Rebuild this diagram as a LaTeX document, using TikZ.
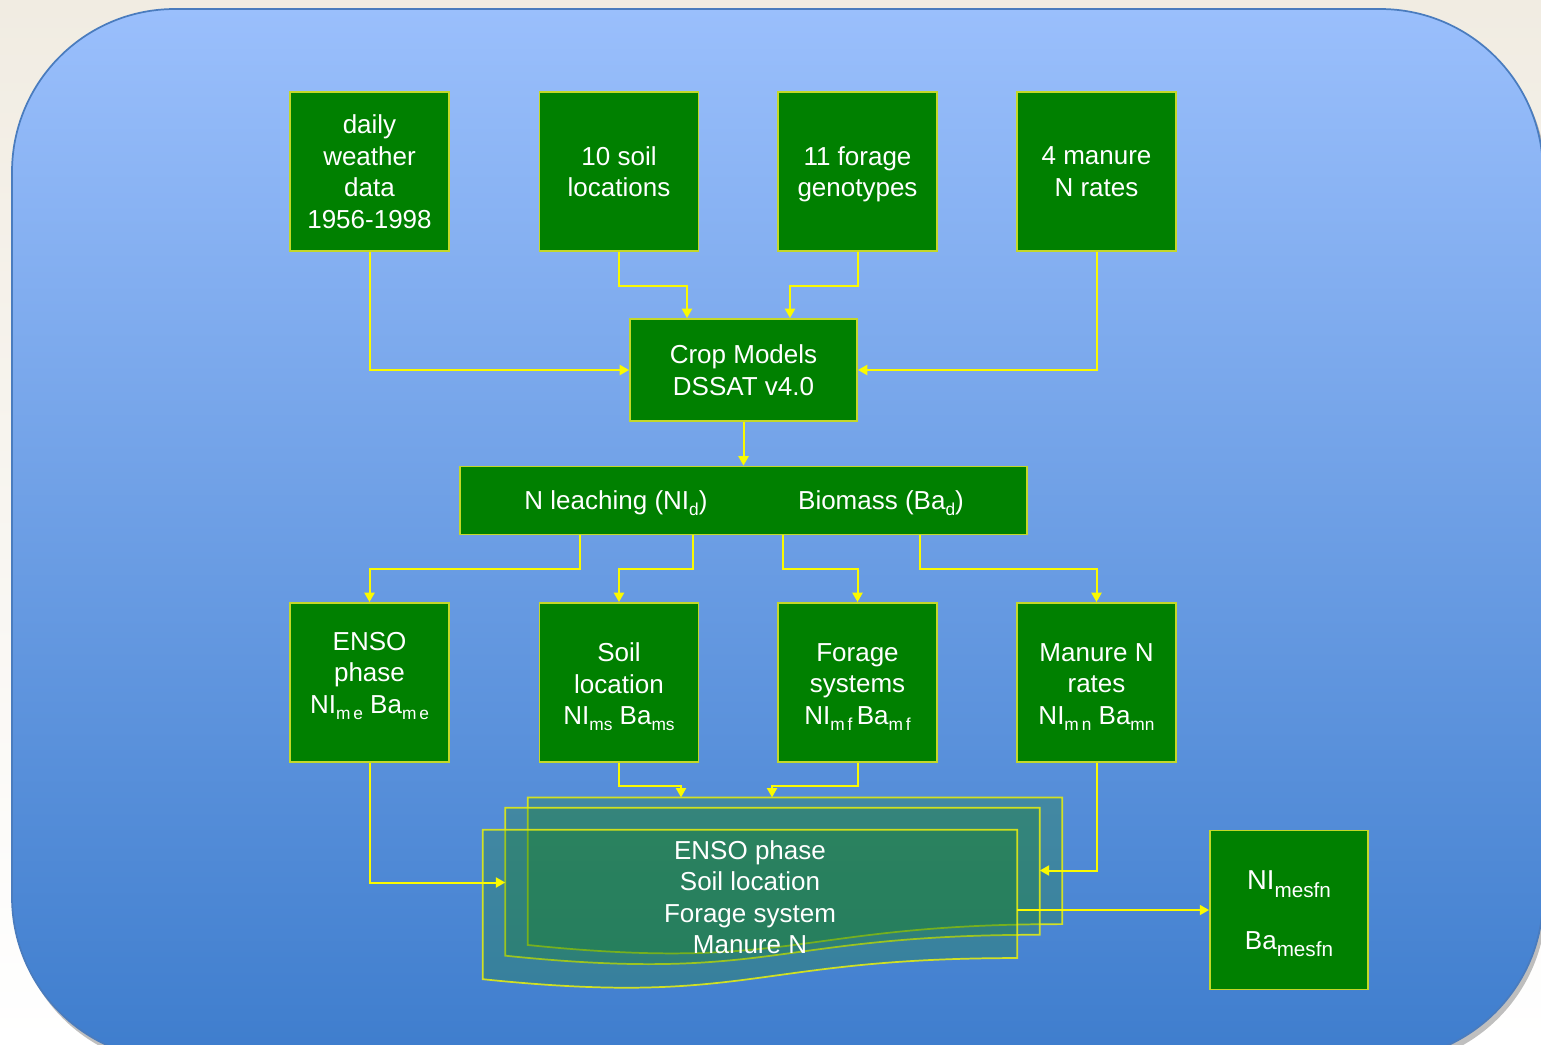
\documentclass[tikz,border=0pt]{standalone}
\usepackage{fontspec}
\setmainfont{Liberation Sans}
\usetikzlibrary{arrows.meta,calc}

\definecolor{paperTop}{RGB}{241,236,226}
\definecolor{panelTop}{RGB}{154,191,252}
\definecolor{panelBot}{RGB}{62,125,205}
\definecolor{panelEdge}{RGB}{74,124,190}
\definecolor{boxGreen}{RGB}{0,128,0}
\definecolor{boxEdge}{RGB}{196,216,40}
\definecolor{wire}{RGB}{250,250,0}
\definecolor{docFill}{RGB}{20,125,25}
\definecolor{docEdge}{RGB}{225,235,20}

% lowered small text for indices
\newcommand{\idx}[1]{\raisebox{-4.5pt}{\fontsize{13pt}{13pt}\selectfont #1}}
\newcommand{\bigidx}[1]{\raisebox{-5.5pt}{\fontsize{15.5pt}{15.5pt}\selectfont #1}}

\tikzset{
  gbox/.style={draw=boxEdge, line width=1.4pt, fill=boxGreen,
    minimum width=119.25pt, minimum height=119.25pt, inner sep=0pt,
    text=white, align=center, text depth=0pt},
  txt/.style={text=white, align=center, inner sep=0pt,
    font=\fontsize{19.5pt}{23.6pt}\selectfont},
  wirestyle/.style={draw=wire, line width=1.5pt,
    -{Triangle[length=7pt,width=7.5pt]}},
  docbox/.style={minimum width=400.5pt, inner sep=0pt},
  docpath/.style={draw=docEdge, draw opacity=0.9, line width=1.3pt,
    fill=docFill, fill opacity=0.28},
}

\begin{document}
\begin{tikzpicture}[x=0.75pt, y=-0.75pt]
  % canvas and panel
  \useasboundingbox (0,0) rectangle (1541,1045);
  \clip (0,0) rectangle (1541,1045);
  \fill[top color=paperTop, bottom color=white] (0,0) rectangle (1541,1045);
  \fill[black, opacity=0.25, rounded corners=122.25pt] (15,14) rectangle (1546,1066);
  \fill[top color=panelTop, bottom color=panelBot, rounded corners=122.25pt]
    (12,9) rectangle (1543,1060);
  \draw[panelEdge, line width=1.3pt, rounded corners=122.25pt]
    (12,9) rectangle (1543,1060);

  % input boxes
  \node[gbox, txt] (weather) at (369.5,171.5) {daily\\weather\\data\\1956-1998};
  \node[gbox, txt] (soil)    at (619,171.5)   {10 soil\\locations};
  \node[gbox, txt] (forage)  at (857.5,171.5) {11 forage\\genotypes};
  \node[gbox, txt] (manure)  at (1096.5,171.5){4 manure\\N rates};

  % model
  \node[gbox, txt, minimum width=170.25pt, minimum height=76.5pt]
    (crop) at (743.5,370) {Crop Models\\DSSAT v4.0};

  % model outputs
  \node[gbox, minimum width=425.25pt, minimum height=51pt] (daily) at (743.5,500.5) {};
  \node[txt] (nltxt) at (616,503) {N leaching (NI\idx{d})};
  \node[txt] (batxt) at (881,503) {Biomass (Ba\idx{d})};

  % aggregated boxes
  \node[gbox] (enso)  at (369.5,682.5) {};
  \node[gbox] (soilm) at (619,682.5)   {};
  \node[gbox] (form)  at (857.5,682.5) {};
  \node[gbox] (manm)  at (1096.5,682.5){};
  \node[txt] (ensotxt)  at (369.5,676) {ENSO\\phase\\NI\idx{m\,e} Ba\idx{m\,e}};
  \node[txt] (soiltxt)  at (619,687)   {Soil\\location\\NI\idx{ms} Ba\idx{ms}};
  \node[txt] (formtxt)  at (857.5,687) {Forage\\systems\\NI\idx{m\,f}\,Ba\idx{m\,f}};
  \node[txt] (manmtxt)  at (1096.5,687){Manure N\\rates\\NI\idx{m\,n} Ba\idx{mn}};

  % stacked documents (back, middle, front)
  \node[docbox, minimum height=95pt]  (docback)  at (795,861) {};
  \node[docbox, minimum height=111.75pt] (docmid) at (772.5,882.5) {};
  \node[docbox, minimum height=120pt] (docfront) at (750,910) {};
  \foreach \d/\H in {docback/158, docmid/158.4, docfront/160}{
    \path[docpath]
      (\d.north west) -- (\d.north east)
      -- ($(\d.north east)+(0,0.802*\H)$)
      .. controls ($(\d.north)+(0,0.802*\H)$) and ($(\d.north)+(0,1.1075*\H)$)
      .. ($(\d.north west)+(0,0.934*\H)$) -- cycle;
  }
  \node[txt] (doctxt) at (750,897) {ENSO phase\\Soil location\\Forage system\\Manure N};

  % final output
  \node[gbox, minimum width=118.5pt] (final) at (1289,910) {};
  \node[txt] (finaltxt) at (1289,914)
    {\fontsize{20.5pt}{23.6pt}\selectfont NI\bigidx{mesfn}\\[21pt]Ba\bigidx{mesfn}};

  % connectors: inputs to model
  \draw[wirestyle] (weather.south) |- (crop.west);
  \draw[wirestyle] (manure.south) |- (crop.east);
  \draw[wirestyle] (soil.south) -- ++(0,34) -| ($(crop.north)+(-56.5,0)$);
  \draw[wirestyle] (forage.south) -- ++(0,34) -| ($(crop.north)+(46.5,0)$);
  \draw[wirestyle] (crop.south) -- (daily.north);

  % connectors: model outputs to aggregations
  \draw[wirestyle] ($(daily.south)+(-163.5,0)$) -- ++(0,34) -| (enso.north);
  \draw[wirestyle] ($(daily.south)+(-50.5,0)$) -- ++(0,34) -| (soilm.north);
  \draw[wirestyle] ($(daily.south)+(39.5,0)$) -- ++(0,34) -| (form.north);
  \draw[wirestyle] ($(daily.south)+(176.5,0)$) -- ++(0,34) -| (manm.north);

  % connectors: aggregations to documents
  \draw[wirestyle] (enso.south) |- (docmid.west);
  \draw[wirestyle] (soilm.south) -- ++(0,23) -| ($(docback.north)+(-114,0)$);
  \draw[wirestyle] (form.south) -- ++(0,23) -| ($(docback.north)+(-23,0)$);
  \draw[wirestyle] (manm.south) |- ($(docmid.east)+(0,-12)$);
  \draw[wirestyle] (docfront.east) -- (final.west);
\end{tikzpicture}
\end{document}
